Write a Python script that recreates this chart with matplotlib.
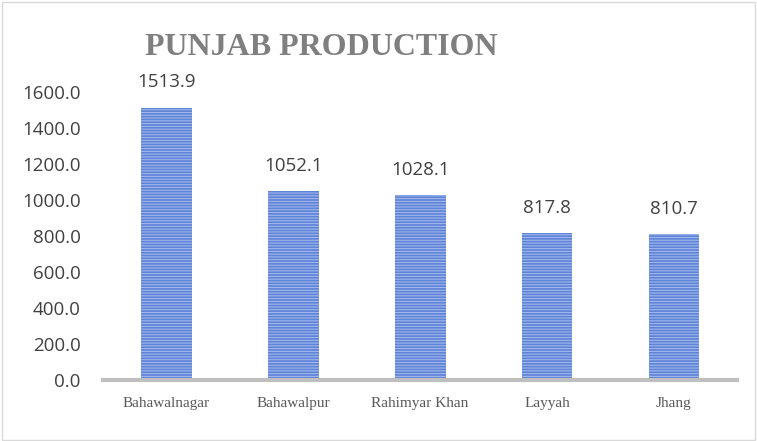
import numpy as np
import matplotlib.pyplot as plt
from matplotlib.patches import Rectangle

# 데이터
districts = ['Bahawalnagar', 'Bahawalpur', 'Rahimyar Khan', 'Layyah', 'Jhang']
production = [1513.9, 1052.1, 1028.1, 817.8, 810.7]
yticks = np.arange(0, 1601, 200)

fig = plt.figure(figsize=(7.57, 4.41), dpi=100)
ax = fig.add_axes([0.136, 0.138, 0.838, 0.653])

plt.rcParams['hatch.color'] = '#9fb7ee'
plt.rcParams['hatch.linewidth'] = 0.8

x = np.arange(len(districts))
bars = ax.bar(x, production, width=0.4, color='#5f83d5', edgecolor='#9fb7ee',
              linewidth=0, hatch='------', zorder=2)

for xi, v in zip(x, production):
    ax.text(xi, v + 90, f'{v:.1f}', ha='center', va='bottom',
            fontsize=13.5, family='Open Sans', color='#404040')

ax.set_xlim(-0.5, 4.5)
ax.set_ylim(0, 1600)
ax.set_yticks(yticks)
ax.set_yticklabels([f'{t:.1f}' for t in yticks], fontsize=13.5,
                   family='Open Sans', color='#404040')
ax.set_xticks(x)
ax.set_xticklabels(districts, fontsize=11, family='Liberation Serif', color='#595959')
ax.tick_params(axis='both', length=0)
ax.tick_params(axis='x', pad=12)
ax.tick_params(axis='y', pad=16)

for s in ['top', 'right', 'left']:
    ax.spines[s].set_visible(False)
ax.spines['bottom'].set_color('#bfbfbf')
ax.spines['bottom'].set_linewidth(3)

fig.text(0.425, 0.893, 'PUNJAB PRODUCTION', ha='center', va='center',
         fontsize=23, fontweight='bold', family='Liberation Serif', color='#7f7f7f')

fig.patches.append(Rectangle((0.002, 0.003), 0.995, 0.993, transform=fig.transFigure,
                             fill=False, edgecolor='#d9d9d9', linewidth=1))

plt.savefig('out.png', dpi=100)
